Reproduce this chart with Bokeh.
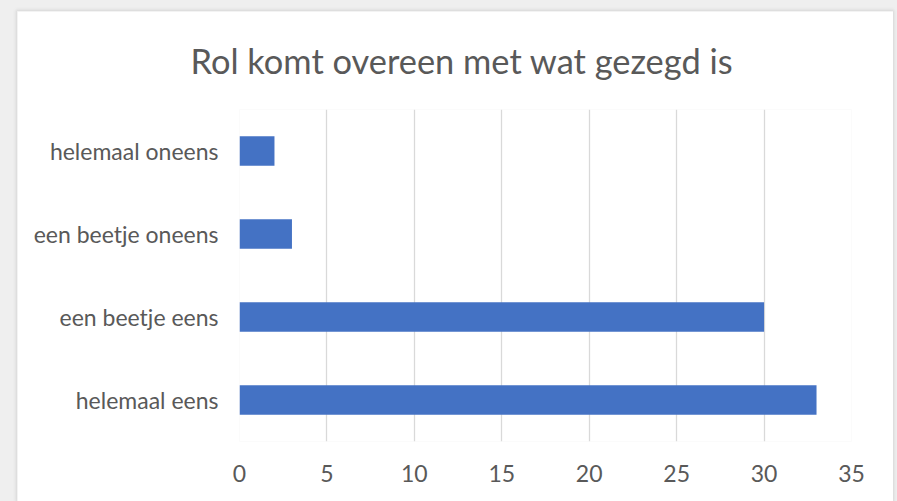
from bokeh.plotting import figure
from bokeh.layouts import column
from bokeh.models import Range1d, FactorRange, FixedTicker
from bokeh.embed import file_html
from bokeh.resources import INLINE

categories = ["helemaal eens", "een beetje eens", "een beetje oneens", "helemaal oneens"]
values = [33, 30, 3, 2]
x_ticks = [0, 5, 10, 15, 20, 25, 30, 35]
title_text = "Rol komt overeen met wat gezegd is"

# chart card occupies page x 17..893, y 11..501
CX, CY = 17, 11
W, H = 893 - CX, 501 - CY
FL, FR, FT, FB = 239 - CX, 893 - 851, 109 - CY, 501 - 441
p = figure(width=W, height=H, output_backend="svg", toolbar_location=None,
           y_range=FactorRange(*categories), x_range=Range1d(0, 35),
           min_border_left=FL, min_border_right=FR, min_border_top=FT, min_border_bottom=FB,
           margin=(CY, 897 - 893, 0, CX), title=title_text)
p.styles = {"box-shadow": "0 0 3px 1px #d4d4d4"}
p.outline_line_color = None
p.background_fill_color = "white"
p.border_fill_color = "white"

p.title.text_font = "Lato"
p.title.text_font_size = "34.4px"
p.title.text_font_style = "normal"
p.title.text_color = "#595959"
p.title.align = "left"
p.title.vertical_align = "top"
p.title.offset = 190 - 239
p.title.standoff = 54

p.hbar(y=categories, left=0, right=values, height=0.355, fill_color="#4472C4", line_color=None)

p.xaxis.ticker = FixedTicker(ticks=x_ticks)
p.xgrid.ticker = FixedTicker(ticks=x_ticks)
p.xgrid.grid_line_color = "#d9d9d9"
p.xgrid.grid_line_width = 1.3
p.ygrid.grid_line_color = None

for ax in (p.xaxis[0], p.yaxis[0]):
    ax.axis_line_color = None
    ax.major_tick_line_color = None
    ax.minor_tick_line_color = None
    ax.major_label_text_font = "Lato"
    ax.major_label_text_color = "#595959"
    ax.major_label_text_font_size = "23px"
p.xaxis.major_label_standoff = 17
p.yaxis.major_label_standoff = 15

layout = column(p, styles={"background-color": "#efefef"})

open("out.html", "w").write(file_html(layout, INLINE))
